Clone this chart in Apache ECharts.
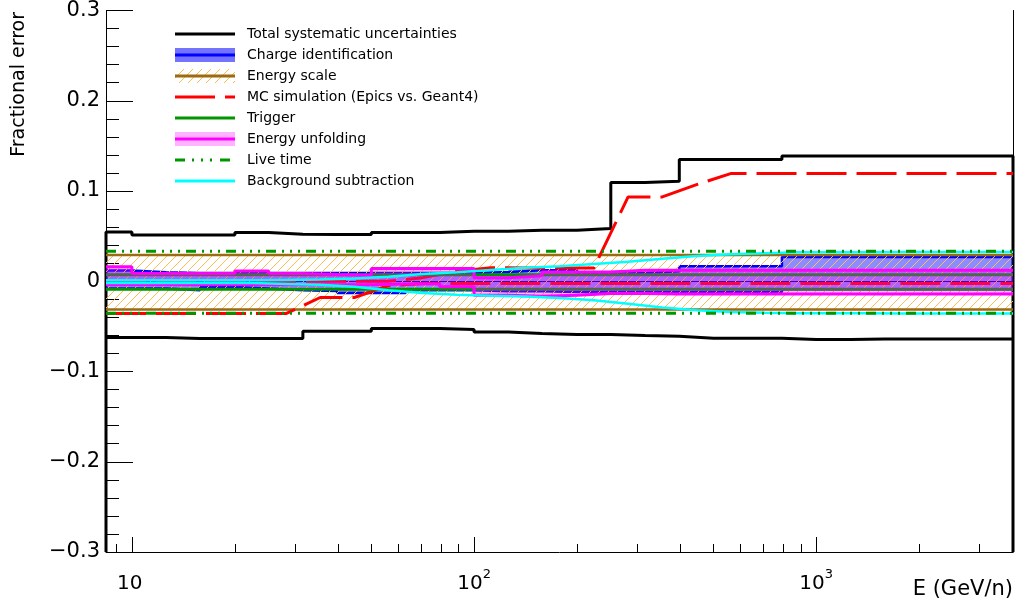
<!DOCTYPE html>
<html>
<head>
<meta charset="utf-8">
<title>Fractional error</title>
<script src="https://cdn.jsdelivr.net/npm/echarts@6.0.0/dist/echarts.min.js"></script>
<style>
  html, body { margin: 0; padding: 0; background: #fff; }
  #chart { width: 1018px; height: 613px; }
</style>
</head>
<body>
<div id="chart"></div>
<script>
// bin edges in E (GeV/n); first/last edge = axis range
const EDGES = [8.4, 10, 12.6, 15.8, 20, 25.1, 31.6, 39.8, 50.1, 63.1, 79.4, 100, 126, 158,
  200, 251, 316, 398, 501, 631, 794, 1000, 1259, 1585, 1995, 2512, 3162, 3760];
// bin centres (used by the curves drawn as polylines)
const CENTERS = [8.9, 11.2, 14.1, 17.8, 22.4, 28.2, 35.5, 44.7, 56.2, 70.8, 89.1, 112, 141, 178,
  224, 282, 355, 447, 562, 708, 891, 1122, 1413, 1778, 2239, 2818, 3548];

const Y_MIN = -0.3, Y_MAX = 0.3;
const X_MINOR = [9, 20, 30, 40, 50, 60, 70, 80, 90, 200, 300, 400, 500, 600, 700, 800, 900, 2000, 3000];
const X_LABELS = [[10, '10', ''], [100, '10', '2'], [1000, '10', '3']];

// one value per bin
const TOTAL_UP = [0.0546, 0.0513, 0.0513, 0.0513, 0.0540, 0.0520, 0.0517, 0.0517, 0.0540,
  0.0540, 0.0554, 0.0554, 0.0565, 0.0565, 0.0584, 0.1093, 0.1107, 0.1350,
  0.1350, 0.1350, 0.1388, 0.1388, 0.1388, 0.1388, 0.1388, 0.1388, 0.1388];
const TOTAL_LO = [-0.0623, -0.0623, -0.0635, -0.0635, -0.0635, -0.0635, -0.0554, -0.0554, -0.0524,
  -0.0524, -0.0535, -0.0561, -0.0579, -0.0590, -0.0590, -0.0601, -0.0609, -0.0631,
  -0.0631, -0.0631, -0.0646, -0.0646, -0.0639, -0.0639, -0.0639, -0.0639, -0.0639];

const CHARGE_UP = [0.0120, 0.0100, 0.0092, 0.0092, 0.0092, 0.0092, 0.0092, 0.0092, 0.0092,
  0.0092, 0.0092, 0.0103, 0.0122, 0.0122, 0.0092, 0.0092, 0.0110, 0.0166,
  0.0166, 0.0166, 0.0270, 0.0270, 0.0270, 0.0270, 0.0270, 0.0270, 0.0270];
const CHARGE_LO = [-0.0080, -0.0080, -0.0100, -0.0063, -0.0080, -0.0100, -0.0107, -0.0130, -0.0130,
  -0.0100, -0.0100, -0.0110, -0.0110, -0.0118, -0.0118, -0.0118, -0.0118, -0.0118,
  -0.0118, -0.0118, -0.0090, -0.0090, -0.0090, -0.0090, -0.0090, -0.0090, -0.0090];

const SCALE_UP = [0.0292, 0.0292, 0.0292, 0.0292, 0.0292, 0.0292, 0.0292, 0.0292, 0.0292,
  0.0292, 0.0292, 0.0292, 0.0292, 0.0292, 0.0292, 0.0292, 0.0292, 0.0292,
  0.0292, 0.0292, 0.0292, 0.0292, 0.0292, 0.0292, 0.0292, 0.0292, 0.0292];
const SCALE_LO = [-0.0312, -0.0312, -0.0312, -0.0312, -0.0312, -0.0312, -0.0312, -0.0312, -0.0312,
  -0.0312, -0.0312, -0.0312, -0.0312, -0.0312, -0.0312, -0.0312, -0.0312, -0.0312,
  -0.0312, -0.0312, -0.0312, -0.0312, -0.0312, -0.0312, -0.0312, -0.0312, -0.0312];

const MC_UP = [0, 0, 0, 0, 0, 0, 0, 0, 0,
  0.0040, 0.0110, 0.0150, 0.0147, 0.0147, 0.0147, 0.0934, 0.0934, 0.1070,
  0.1193, 0.1193, 0.1193, 0.1193, 0.1193, 0.1193, 0.1193, 0.1193, 0.1193];
const MC_LO = [-0.0358, -0.0358, -0.0358, -0.0358, -0.0358, -0.0358, -0.0180, -0.0180, -0.0050,
  -0.0025, -0.0025, -0.0025, -0.0025, -0.0025, -0.0025, -0.0025, -0.0025, -0.0025,
  -0.0025, -0.0025, -0.0025, -0.0025, -0.0025, -0.0025, -0.0025, -0.0025, -0.0025];

const TRIG_UP = [0.0072, 0.0072, 0.0072, 0.0072, 0.0072, 0.0072, 0.0072, 0.0072, 0.0072,
  0.0072, 0.0072, 0.0072, 0.0072, 0.0072, 0.0072, 0.0072, 0.0072, 0.0072,
  0.0072, 0.0072, 0.0072, 0.0072, 0.0072, 0.0072, 0.0072, 0.0072, 0.0072];
const TRIG_LO = [-0.0088, -0.0088, -0.0088, -0.0088, -0.0088, -0.0088, -0.0088, -0.0088, -0.0088,
  -0.0088, -0.0088, -0.0088, -0.0088, -0.0088, -0.0088, -0.0088, -0.0088, -0.0088,
  -0.0088, -0.0088, -0.0088, -0.0088, -0.0088, -0.0088, -0.0088, -0.0088, -0.0088];

const UNFOLD_UP = [0.0160, 0.0085, 0.0085, 0.0085, 0.0114, 0.0085, 0.0075, 0.0066, 0.0140,
  0.0140, 0.0140, 0.0040, 0.0060, 0.0103, 0.0103, 0.0122, 0.0122, 0.0122,
  0.0122, 0.0122, 0.0122, 0.0122, 0.0122, 0.0122, 0.0122, 0.0122, 0.0122];
const UNFOLD_LO = [-0.0040, -0.0040, -0.0040, -0.0040, -0.0040, -0.0040, -0.0040, -0.0040, -0.0030,
  -0.0030, -0.0060, -0.0155, -0.0166, -0.0155, -0.0137, -0.0137, -0.0140, -0.0140,
  -0.0142, -0.0142, -0.0142, -0.0142, -0.0142, -0.0142, -0.0142, -0.0142, -0.0142];

const LIVE_UP = [0.0332, 0.0332, 0.0332, 0.0332, 0.0332, 0.0332, 0.0332, 0.0332, 0.0332,
  0.0332, 0.0332, 0.0332, 0.0332, 0.0332, 0.0332, 0.0332, 0.0332, 0.0332,
  0.0332, 0.0332, 0.0332, 0.0332, 0.0332, 0.0332, 0.0332, 0.0332, 0.0332];
const LIVE_LO = [-0.0355, -0.0355, -0.0355, -0.0355, -0.0355, -0.0355, -0.0355, -0.0355, -0.0355,
  -0.0355, -0.0355, -0.0355, -0.0355, -0.0355, -0.0355, -0.0355, -0.0355, -0.0355,
  -0.0355, -0.0355, -0.0355, -0.0355, -0.0355, -0.0355, -0.0355, -0.0355, -0.0355];

const BKG_UP = [0.0010, 0.0010, 0.0010, 0.0010, 0.0010, 0.0015, 0.0020, 0.0030, 0.0050,
  0.0080, 0.0100, 0.0125, 0.0150, 0.0165, 0.0190, 0.0215, 0.0250, 0.0280,
  0.0300, 0.0310, 0.0320, 0.0320, 0.0320, 0.0325, 0.0325, 0.0325, 0.0325];
const BKG_LO = [-0.0020, -0.0020, -0.0020, -0.0020, -0.0020, -0.0030, -0.0040, -0.0060, -0.0100,
  -0.0130, -0.0150, -0.0160, -0.0170, -0.0185, -0.0210, -0.0250, -0.0290, -0.0320,
  -0.0340, -0.0350, -0.0355, -0.0355, -0.0355, -0.0358, -0.0358, -0.0358, -0.0358];

const NAMES = ['Total systematic uncertainties', 'Charge identification', 'Energy scale',
  'MC simulation (Epics vs. Geant4)', 'Trigger', 'Energy unfolding', 'Live time', 'Background subtraction'];

const FONT = 'DejaVu Sans';
const BLUE = '#0000ff', BLUE_FILL = 'rgba(0,0,255,0.45)';
const PINK = '#ff00ff', PINK_FILL = 'rgba(255,0,255,0.3)';
const BROWN = '#9c6b10', HATCH = '#ffbb55';
const GREEN = '#009600', RED = '#ff0000', CYAN = '#00ffff';
const DASH_MC = [40, 10];
const DASH_LIVE = [10, 6, 2, 6, 2, 6, 2, 6];

// hatch tile for the energy scale band
const hatch = document.createElement('canvas');
hatch.width = 9; hatch.height = 9;
(function () {
  const g = hatch.getContext('2d');
  g.strokeStyle = HATCH; g.lineWidth = 1;
  g.beginPath();
  g.moveTo(0, 9); g.lineTo(9, 0);
  g.moveTo(-1, 1); g.lineTo(1, -1);
  g.moveTo(8, 10); g.lineTo(10, 8);
  g.stroke();
})();

// legend icons
function icon(draw) {
  const c = document.createElement('canvas');
  c.width = 60; c.height = 14;
  draw(c.getContext('2d'));
  return 'image://' + c.toDataURL();
}
function hline(g, color, w, dash) {
  g.strokeStyle = color; g.lineWidth = w; g.setLineDash(dash || []);
  g.beginPath(); g.moveTo(0, 7); g.lineTo(60, 7); g.stroke();
}
const ICONS = [
  icon(g => hline(g, '#000', 3)),
  icon(g => { g.fillStyle = 'rgba(0,0,255,0.55)'; g.fillRect(0, 0, 60, 14); hline(g, BLUE, 3); }),
  icon(g => { g.fillStyle = g.createPattern(hatch, 'repeat'); g.fillRect(0, 0, 60, 14); hline(g, BROWN, 3); }),
  icon(g => hline(g, RED, 3, [40, 10])),
  icon(g => hline(g, GREEN, 3)),
  icon(g => { g.fillStyle = PINK_FILL; g.fillRect(0, 0, 60, 14); hline(g, PINK, 3); }),
  icon(g => hline(g, GREEN, 3, [10, 7, 2, 7, 2, 7, 2, 8])),
  icon(g => hline(g, CYAN, 3))
];

function stepData(vals) {
  const d = vals.map((v, i) => [EDGES[i], v]);
  d.push([EDGES[EDGES.length - 1], vals[vals.length - 1]]);
  return d;
}
function curveData(vals) {
  const d = [[EDGES[0], vals[0]]];
  vals.forEach((v, i) => d.push([CENTERS[i], v]));
  d.push([EDGES[EDGES.length - 1], vals[vals.length - 1]]);
  return d;
}
function line(name, data, color, width, z, dash, step) {
  return {
    name, type: 'line', data, z, step: step ? 'end' : false,
    symbol: 'none', silent: true, animation: false,
    lineStyle: { color, width, type: dash || 'solid', cap: 'butt' }
  };
}
// filled band between lo and hi, one polygon over all bins
function band(name, lo, hi, fill, z) {
  return {
    name, type: 'custom', z, silent: true, animation: false,
    data: [[EDGES[0], 0]],
    renderItem: (params, api) => {
      const pts = [];
      for (let i = 0; i < hi.length; i++) {
        pts.push(api.coord([EDGES[i], hi[i]]));
        pts.push(api.coord([EDGES[i + 1], hi[i]]));
      }
      for (let i = lo.length - 1; i >= 0; i--) {
        pts.push(api.coord([EDGES[i + 1], lo[i]]));
        pts.push(api.coord([EDGES[i], lo[i]]));
      }
      return { type: 'polygon', shape: { points: pts }, style: { fill: fill, stroke: null } };
    }
  };
}

const totalUpData = [[EDGES[0], Y_MIN]].concat(stepData(TOTAL_UP), [[EDGES[EDGES.length - 1], Y_MIN]]);

const series = [
  line(NAMES[0], totalUpData, '#000', 3, 2, null, true),
  line(NAMES[0], stepData(TOTAL_LO), '#000', 3, 2, null, true),
  band(NAMES[1], CHARGE_LO, CHARGE_UP, BLUE_FILL, 3),
  line(NAMES[1], stepData(CHARGE_UP), BLUE, 2.5, 4, null, true),
  line(NAMES[1], stepData(CHARGE_LO), BLUE, 2.5, 4, null, true),
  band(NAMES[2], SCALE_LO, SCALE_UP, { image: hatch, repeat: 'repeat' }, 5),
  line(NAMES[2], stepData(SCALE_UP), BROWN, 2.5, 6, null, true),
  line(NAMES[2], stepData(SCALE_LO), BROWN, 2.5, 6, null, true),
  line(NAMES[3], curveData(MC_UP), RED, 3, 7, DASH_MC),
  line(NAMES[3], curveData(MC_LO), RED, 3, 7, DASH_MC),
  line(NAMES[4], stepData(TRIG_UP), GREEN, 3, 8, null, true),
  line(NAMES[4], stepData(TRIG_LO), GREEN, 3, 8, null, true),
  band(NAMES[5], UNFOLD_LO, UNFOLD_UP, PINK_FILL, 9),
  line(NAMES[5], stepData(UNFOLD_UP), PINK, 3, 10, null, true),
  line(NAMES[5], stepData(UNFOLD_LO), PINK, 3, 10, null, true),
  line(NAMES[7], curveData(BKG_UP), CYAN, 2.5, 11),
  line(NAMES[7], curveData(BKG_LO), CYAN, 2.5, 11),
  line(NAMES[6], stepData(LIVE_UP), GREEN, 3, 12, DASH_LIVE, true),
  line(NAMES[6], stepData(LIVE_LO), GREEN, 3, 12, DASH_LIVE, true),
  {
    // minor ticks of the log axis (2..9 per decade)
    type: 'custom', z: 20, silent: true, animation: false,
    data: X_MINOR.map(e => [e, Y_MIN]),
    renderItem: (params, api) => {
      const p = api.coord([api.value(0), api.value(1)]);
      const x = Math.round(p[0]) + 0.5;
      return { type: 'line', shape: { x1: x, y1: p[1], x2: x, y2: p[1] - 8 },
               style: { stroke: '#000', lineWidth: 1 } };
    }
  }
];

const chart = echarts.init(document.getElementById('chart'), null, { renderer: 'canvas' });
chart.setOption({
  animation: false,
  backgroundColor: '#fff',
  grid: { left: 106, right: 5, top: 10, bottom: 61 },
  legend: {
    orient: 'vertical', left: 170, top: 22, itemWidth: 60, itemHeight: 14, itemGap: 7,
    selectedMode: false,
    textStyle: { fontFamily: FONT, fontSize: 14, color: '#000', lineHeight: 14, padding: [0, 0, 0, 7] },
    data: NAMES.map((n, i) => ({ name: n, icon: ICONS[i] }))
  },
  xAxis: [{
    type: 'log', logBase: 10, min: EDGES[0], max: EDGES[EDGES.length - 1],
    name: 'E (GeV/n)', nameLocation: 'end', nameGap: 0,
    nameTextStyle: { fontFamily: FONT, fontSize: 21, color: '#000', align: 'right', verticalAlign: 'top', padding: [27, 0, 0, 0] },
    axisLine: { show: true, onZero: false, lineStyle: { color: '#000', width: 1 } },
    axisTick: { show: true, inside: true, length: 15, lineStyle: { color: '#000' } },
    splitLine: { show: false },
    axisLabel: {
      margin: 16, showMinLabel: false, showMaxLabel: false, color: '#000',
      formatter: v => {
        const l = X_LABELS.find(t => Math.abs(t[0] - v) / v < 1e-6);
        if (!l) return '';
        return '{b|' + l[1] + '}{s|' + (l[2] || ' ') + '}';
      },
      rich: {
        b: { fontFamily: FONT, fontSize: 20, color: '#000', verticalAlign: 'bottom' },
        s: { fontFamily: FONT, fontSize: 13, color: '#000', padding: [0, 0, 13, 0] }
      }
    }
  }, {
    type: 'log', logBase: 10, min: EDGES[0], max: EDGES[EDGES.length - 1], position: 'top',
    axisLine: { show: true, lineStyle: { color: '#000', width: 1 } },
    axisTick: { show: false }, axisLabel: { show: false }, splitLine: { show: false }
  }],
  yAxis: [{
    type: 'value', min: Y_MIN, max: Y_MAX, interval: 0.1,
    axisLine: { show: true, onZero: false, lineStyle: { color: '#000', width: 1 } },
    axisTick: { show: true, inside: true, length: 27, lineStyle: { color: '#000' } },
    minorTick: { show: true, splitNumber: 5, length: 13, lineStyle: { color: '#000' } },
    splitLine: { show: false },
    axisLabel: {
      margin: 6, fontFamily: FONT, fontSize: 21, color: '#000',
      formatter: v => {
        if (Math.abs(v) < 1e-9) return '0';
        return v < 0 ? '\u2212' + (-v).toFixed(1) : v.toFixed(1);
      }
    }
  }, {
    type: 'value', min: Y_MIN, max: Y_MAX, position: 'right',
    axisLine: { show: true, onZero: false, lineStyle: { color: '#000', width: 1 } },
    axisTick: { show: false }, axisLabel: { show: false }, splitLine: { show: false }
  }],
  graphic: [{
    type: 'text', x: 19, y: 12, rotation: Math.PI / 2, silent: true,
    style: { text: 'Fractional error', font: '19px "DejaVu Sans"', fill: '#000',
             align: 'right', verticalAlign: 'middle', textAlign: 'right', textVerticalAlign: 'middle' }
  }],
  series: series
});
window.addEventListener('resize', () => chart.resize());
</script>
</body>
</html>
